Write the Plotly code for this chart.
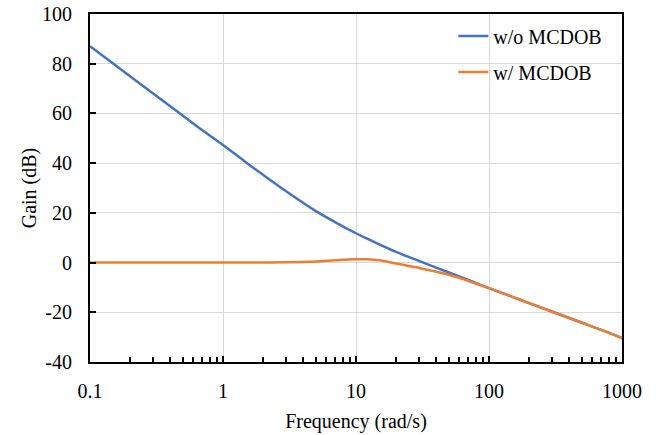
import plotly.graph_objects as go

freq = [0.1, 0.15, 0.2, 0.3, 0.5, 0.7, 1, 1.5, 2, 3, 5, 7, 10, 12, 15, 20, 30, 50, 70,
        100, 150, 200, 300, 500, 700, 1000]
gain_wo = [87.0, 80.0, 75.0, 67.9, 59.1, 53.2, 47.3, 40.2, 35.3, 28.6, 20.7, 16.2, 11.8,
           9.7, 7.3, 4.3, 0.6, -4.0, -7.0, -10.3, -13.8, -16.3, -19.8, -24.2, -27.1, -30.4]
gain_w = [0.0, 0.0, 0.0, 0.0, 0.0, 0.0, 0.0, 0.02, 0.05, 0.1, 0.4, 0.9, 1.3,
          1.3, 0.9, -0.4, -2.2, -4.9, -7.4, -10.3, -13.8, -16.3, -19.8, -24.2, -27.1, -30.4]

x_tickvals = [0.1, 1, 10, 100, 1000]
x_ticktext = ["0.1", "1", "10", "100", "1000"]
x_minor = [k * 10 ** e for e in range(-1, 3) for k in range(2, 10)]
y_tickvals = [-40, -20, 0, 20, 40, 60, 80, 100]
y_ticktext = ["-40", "-20", "0", "20", "40", "60", "80", "100"]

FONT = "Liberation Serif"
TICKFONT = dict(family=FONT, size=20, color="black")

fig = go.Figure()
fig.add_trace(go.Scatter(x=freq, y=gain_wo, mode="lines", name="w/o MCDOB",
                         line=dict(color="#4472C4", width=2.5, shape="spline"),
                         legend="legend"))
fig.add_trace(go.Scatter(x=freq, y=gain_w, mode="lines", name="w/ MCDOB",
                         line=dict(color="#ED7D31", width=2.5, shape="spline"),
                         legend="legend2"))

legend_common = dict(font=dict(family=FONT, size=20, color="black"),
                     bgcolor="rgba(0,0,0,0)", xanchor="left", yanchor="middle",
                     itemwidth=30)

fig.update_layout(
    width=660, height=435,
    margin=dict(l=90, r=38, t=14, b=73),
    paper_bgcolor="white", plot_bgcolor="white",
    font=dict(family=FONT, size=20, color="black"),
    showlegend=True,
    legend=dict(x=0.683, y=(362 - 36) / 348, **legend_common),
    legend2=dict(x=0.683, y=(362 - 72) / 348, **legend_common),
    xaxis=dict(
        type="log", range=[-1, 3], automargin=False,
        tickmode="array", tickvals=x_tickvals, ticktext=x_ticktext, tickfont=TICKFONT,
        ticks="inside", ticklen=6, tickwidth=1.5, tickcolor="black",
        showgrid=True, gridcolor="#d9d9d9", gridwidth=1,
        showline=True, linecolor="black", linewidth=2, mirror=True,
        zeroline=False, ticklabelstandoff=10,
        minor=dict(tickmode="array", tickvals=x_minor, ticks="inside", ticklen=5,
                   tickwidth=1.5, tickcolor="black", showgrid=False),
        title=dict(text="Frequency (rad/s)", font=dict(family=FONT, size=20), standoff=13),
    ),
    yaxis=dict(
        range=[-40, 100], automargin=False,
        tickmode="array", tickvals=y_tickvals, ticktext=y_ticktext, tickfont=TICKFONT,
        ticks="inside", ticklen=6, tickwidth=1.5, tickcolor="black",
        showgrid=True, gridcolor="#d9d9d9", gridwidth=1,
        showline=True, linecolor="black", linewidth=2, mirror=True,
        zeroline=False, ticklabelstandoff=12,
        title=dict(text="Gain (dB)", font=dict(family=FONT, size=20), standoff=0),
    ),
)

fig.write_html("out.html")
